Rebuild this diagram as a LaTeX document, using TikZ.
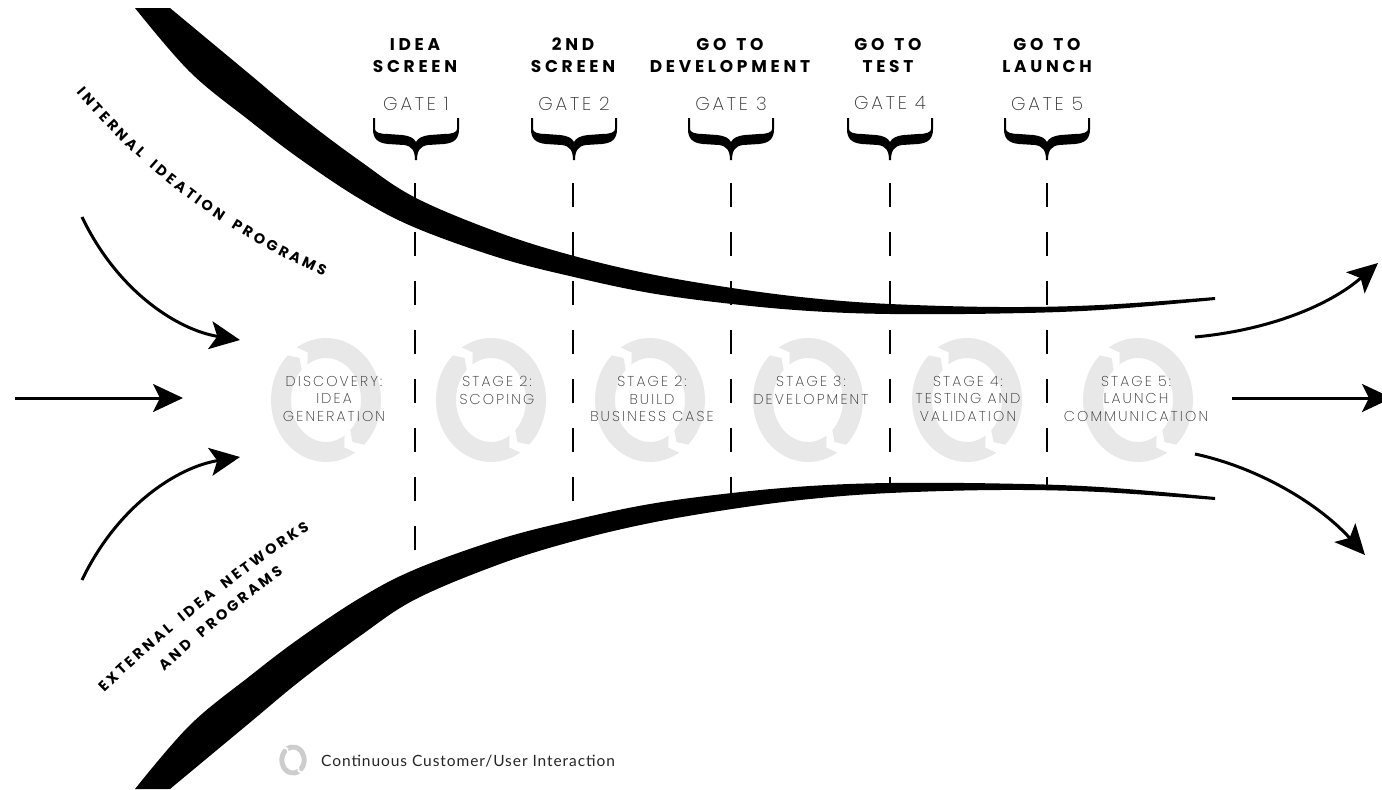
\documentclass[tikz,border=0pt]{standalone}
\usepackage{fontspec}
\usetikzlibrary{arrows.meta,decorations.text}
\newfontfamily\headfont{Poppins Bold}[LetterSpace=22]
\newfontfamily\curvefont{Poppins Bold}
\newfontfamily\thinfont{Poppins ExtraLight}[LetterSpace=15]
\newfontfamily\legendfont{Lato}[LetterSpace=6]
\definecolor{ringgray}{HTML}{E8E8E8}
\definecolor{legendgray}{HTML}{CDCDCD}
\definecolor{labelgray}{HTML}{2E2E2E}
% one letter of a tracked curved label
\newcommand\ls[1]{#1\kern3pt}

\tikzset{
  headlabel/.style={font={\headfont\fontsize{17}{22}\selectfont}, align=center, inner sep=0pt, anchor=north},
  gatelabel/.style={font={\thinfont\fontsize{18.5}{22}\selectfont}, text=labelgray, inner sep=0pt},
  stagelabel/.style={font={\thinfont\fontsize{14.3}{17.5}\selectfont}, text=labelgray, align=center, inner sep=0pt, anchor=north},
  gateline/.style={line width=2pt, dash pattern=on 24pt off 25pt},
  flow/.style={line width=3pt, -{Stealth[length=30pt,width=28pt,inset=7pt]}},
  curvetext/.style={decorate, decoration={text along path, text align=center, raise=-5pt,
    text={|\curvefont\fontsize{14.5}{17}\selectfont|#1}}},
  gatebrace/.pic={
    \fill (-43,0) -- (-43,11) .. controls (-43,21) and (-38,25) .. (-28,26)
      -- (-12,27) .. controls (-4,28) and (-1,33) .. (-1,42) -- (1,42)
      .. controls (1,33) and (4,28) .. (12,27) -- (28,26)
      .. controls (38,25) and (43,21) .. (43,11) -- (43,0) -- (41,0) -- (41,11)
      .. controls (41,14) and (37,16) .. (28,16) -- (14,17)
      .. controls (6,18) and (2,20) .. (0,24)
      .. controls (-2,20) and (-6,18) .. (-14,17) -- (-28,16)
      .. controls (-37,16) and (-41,14) .. (-41,11) -- (-41,0) -- cycle;
  },
  cyclering/.pic={
    \fill (58:55 and 62) arc[start angle=58, end angle=226, x radius=55, y radius=62]
      -- (234:45 and 52) -- (226:35 and 42)
      arc[start angle=226, end angle=58, x radius=35, y radius=42]
      -- (66:45 and 52) -- cycle;
    \fill (238:55 and 62) arc[start angle=238, end angle=406, x radius=55, y radius=62]
      -- (414:45 and 52) -- (406:35 and 42)
      arc[start angle=406, end angle=238, x radius=35, y radius=42]
      -- (246:45 and 52) -- cycle;
  }
}

\begin{document}
\begin{tikzpicture}[x=1pt,y=-1pt]
\useasboundingbox (0,0) rectangle (1382,790);
\fill[white] (0,0) rectangle (1382,790);

% stage rings
\pic[ringgray] (r1) at (326,400) {cyclering};
\pic[ringgray] (r2) at (491,400) {cyclering};
\pic[ringgray] (r3) at (650,400) {cyclering};
\pic[ringgray] (r4) at (808,400) {cyclering};
\pic[ringgray] (r5) at (967,400) {cyclering};
\pic[ringgray] (r6) at (1138,400) {cyclering};

% gate lines
\foreach \i/\x/\yb in {1/415/585, 2/573/530, 3/731/500, 4/890/488, 5/1047/487}{
  \coordinate (gt\i) at (\x,183);
  \coordinate (gb\i) at (\x,\yb);
  \draw[gateline] (gt\i) -- (gb\i);
}

% converging funnel walls (the lower one is the upper one mirrored about the axis)
\foreach \s in {1,-1}{
\begin{scope}[shift={(0,398.5*(1-\s))}, yscale=\s]
\fill plot[smooth, tension=0.6] coordinates {(170,8) (247,72) (300,116) (360,161) (416,198) (500,233) (574,256) (650,274) (732,288) (810,298) (890,304) (1000,307) (1100,305) (1215,297)}
  -- plot[smooth, tension=0.6] coordinates {(1215,300) (1100,310) (1000,313.5) (890,314) (810,311) (732,304) (650,293) (574,277) (500,258) (416,228) (360,199) (300,159) (250,121) (190,72) (135,8)}
  -- cycle;
\end{scope}
}

% gate braces
\foreach \i/\x in {1/416,2/574,3/731,4/890,5/1047}{
  \pic (br\i) at (\x,118) {gatebrace};
}

% gate titles
\node[headlabel] (h1) at (415,38) {IDEA\\SCREEN};
\node[headlabel] (h2) at (573,38) {2ND\\SCREEN};
\node[headlabel] (h3) at (730,38) {GO\hspace{10pt}TO\\DEVELOPMENT};
\node[headlabel] (h4) at (888,38) {GO\hspace{10pt}TO\\TEST};
\node[headlabel] (h5) at (1047,38) {GO\hspace{10pt}TO\\LAUNCH};

\node[gatelabel] (g1) at (416,103.5) {GATE 1};
\node[gatelabel] (g2) at (574,103.5) {GATE 2};
\node[gatelabel] (g3) at (731,103.5) {GATE 3};
\node[gatelabel] (g4) at (890,103.5) {GATE 4};
\node[gatelabel] (g5) at (1047,103.5) {GATE 5};

% stage labels
\node[stagelabel] (s1) at (334,376) {DISCOVERY:\\IDEA\\GENERATION};
\node[stagelabel] (s2) at (497,376) {STAGE 2:\\SCOPING};
\node[stagelabel] (s3) at (652,376) {STAGE 2:\\BUILD\\BUSINESS CASE};
\node[stagelabel] (s4) at (811,376) {STAGE 3:\\DEVELOPMENT};
\node[stagelabel] (s5) at (968,376) {STAGE 4:\\TESTING AND\\VALIDATION};
\node[stagelabel] (s6) at (1136,376) {STAGE 5:\\LAUNCH\\COMMUNICATION};

% curved source labels
\path[curvetext={{\ls I}{\ls N}{\ls T}{\ls E}{\ls R}{\ls N}{\ls A}{\ls L}{\kern9pt}{\ls I}{\ls D}{\ls E}{\ls A}{\ls T}{\ls I}{\ls O}{\ls N}{\kern9pt}{\ls P}{\ls R}{\ls O}{\ls G}{\ls R}{\ls A}{\ls M}{S}}]
  (51.7,54.4) .. controls (120,140) and (200,225) .. (367.7,289);
\path[curvetext={{\ls E}{\ls X}{\ls T}{\ls E}{\ls R}{\ls N}{\ls A}{\ls L}{\kern9pt}{\ls I}{\ls D}{\ls E}{\ls A}{\kern9pt}{\ls N}{\ls E}{\ls T}{\ls W}{\ls O}{\ls R}{\ls K}{S}}]
  (73.2,716.8) -- (101.5,688.5) .. controls (151,639) and (254.5,556.5) .. (306.5,526.5) -- (341.1,506.5);
\path[curvetext={{\ls A}{\ls N}{\ls D}{\kern9pt}{\ls P}{\ls R}{\ls O}{\ls G}{\ls R}{\ls A}{\ls M}{S}}]
  (133,691.5) -- (163,665.5) .. controls (198,634.5) and (243,595.5) .. (278,571.5) -- (310,547.5);

% incoming flows
\coordinate (inA) at (82,217);  \coordinate (inAe) at (240,340);
\coordinate (inB) at (15,398);  \coordinate (inBe) at (183,398);
\coordinate (inC) at (82,580);  \coordinate (inCe) at (240,457);
\draw[flow] (inA) .. controls (118,292) and (178,330) .. (inAe);
\draw[flow] (inB) -- (inBe);
\draw[flow] (inC) .. controls (118,505) and (178,467) .. (inCe);

% outgoing flows
\coordinate (outA) at (1195,337); \coordinate (outAe) at (1378,263);
\coordinate (outB) at (1232,398); \coordinate (outBe) at (1392,398);
\coordinate (outC) at (1195,454); \coordinate (outCe) at (1365,555);
\draw[flow] (outA) .. controls (1270,330) and (1330,305) .. (outAe);
\draw[flow] (outB) -- (outBe);
\draw[flow] (outC) .. controls (1260,468) and (1320,505) .. (outCe);

% legend
\pic[legendgray, scale=0.25] (leg) at (293,760) {cyclering};
\node[font={\legendfont\fontsize{15.5}{18}\selectfont}, text=black!85, anchor=west, inner sep=0pt] (legtext) at (321,761) {Continuous Customer/User Interaction};
\end{tikzpicture}
\end{document}
